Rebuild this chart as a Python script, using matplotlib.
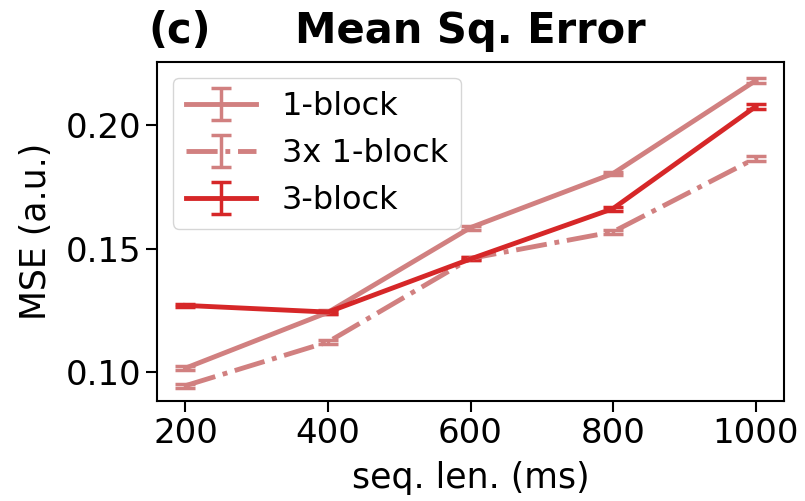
import numpy as np
import matplotlib
matplotlib.use("Agg")
import matplotlib.pyplot as plt

# data
seq_len = [200, 400, 600, 800, 1000]
one_block = [0.1016, 0.1242, 0.1585, 0.1804, 0.2180]
one_block_err = [0.0008, 0.0008, 0.0008, 0.0008, 0.0010]
three_x_one = [0.0945, 0.1122, 0.1460, 0.1568, 0.1866]
three_x_one_err = [0.0008, 0.0008, 0.0008, 0.0008, 0.0010]
three_block = [0.1270, 0.1243, 0.1458, 0.1662, 0.2075]
three_block_err = [0.0006, 0.0006, 0.0006, 0.0008, 0.0010]

light = (0.82, 0.50, 0.50)
dark = "#d62728"

fig = plt.figure(figsize=(8.05, 5.01), dpi=100)
ax = fig.add_axes([0.195, 0.1996, 0.779, 0.6764])

kw = dict(linewidth=3.5, capsize=7, capthick=2.5, elinewidth=2.5)
ax.errorbar(seq_len, one_block, yerr=one_block_err, color=light, linestyle="-", label="1-block", **kw)
ax.errorbar(seq_len, three_x_one, yerr=three_x_one_err, color=light, linestyle="-.", label="3x 1-block", **kw)
ax.errorbar(seq_len, three_block, yerr=three_block_err, color=dark, linestyle="-", label="3-block", **kw)

ax.set_xlim(160, 1040)
ax.set_ylim(0.0883, 0.2255)
ax.set_xticks(seq_len)
ax.set_yticks([0.10, 0.15, 0.20])
ax.tick_params(labelsize=24.5, length=8, width=1.5)
for s in ax.spines.values():
    s.set_linewidth(1.5)

ax.set_xlabel("seq. len. (ms)", fontsize=25, labelpad=8)
ax.set_ylabel("MSE (a.u.)", fontsize=25, labelpad=9)
ax.set_title("Mean Sq. Error", fontsize=30, fontweight="bold", pad=14)
ax.set_title("(c)", fontsize=30, fontweight="bold", loc="left", x=-0.014, pad=14)

ax.legend(loc="upper left", fontsize=23, handlelength=2.2)

fig.savefig("out.png", dpi=100)
